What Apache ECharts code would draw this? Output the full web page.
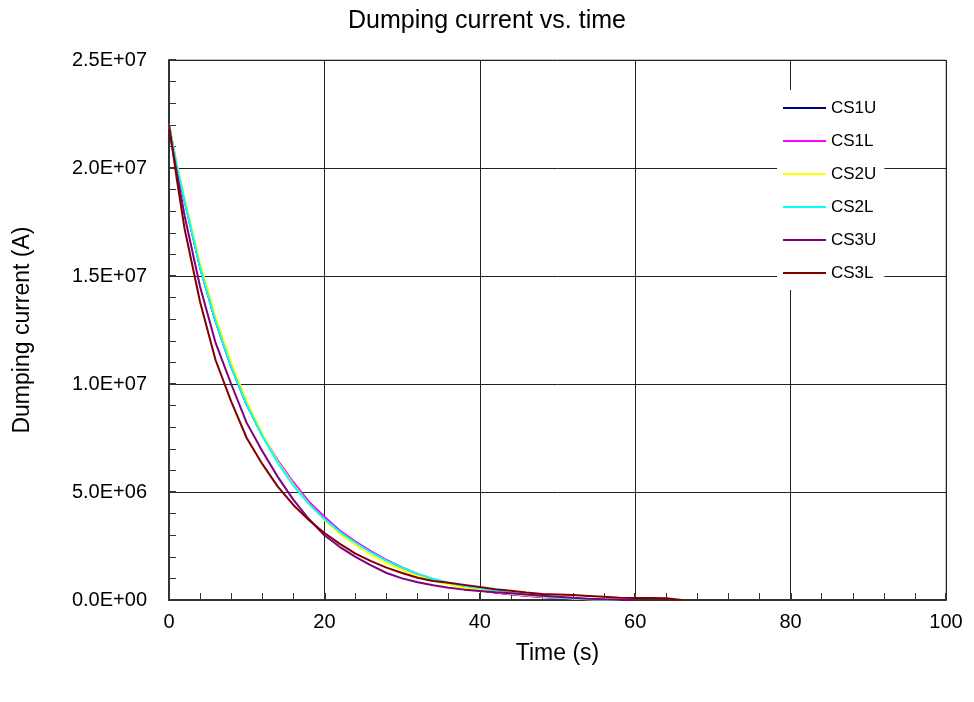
<!DOCTYPE html>
<html>
<head>
<meta charset="utf-8">
<title>Dumping current vs. time</title>
<script src="https://cdn.jsdelivr.net/npm/echarts@6/dist/echarts.min.js"></script>
<style>
  html, body { margin: 0; padding: 0; background: #fff; }
  #chart { width: 974px; height: 702px; }
</style>
</head>
<body>
<div id="chart"></div>
<script>
// Sample times (s)
const times = [0, 1, 2, 4, 6, 8, 10, 12, 14, 16, 18, 20, 22, 24, 26, 28, 30, 32, 34,
  36, 38, 40, 42, 44, 46, 48, 50, 52, 54, 56, 58, 60, 62, 64, 66];

// Dumping current per coil, in MA (1 MA = 1E+06 A)
const MA = 1e6;
const cs1u = [22.0, 20.1, 18.5, 15.4, 12.9, 10.8, 9.05, 7.63, 6.43, 5.43, 4.53, 3.83, 3.19, 2.68, 2.24, 1.84, 1.5, 1.2, 0.95,
  0.75, 0.58, 0.45, 0.35, 0.27, 0.2, 0.14, 0.1, 0.06, 0.03, 0.01, 0];
const cs1l = [22.0, 20.1, 18.5, 15.4, 12.9, 10.8, 9.05, 7.65, 6.45, 5.45, 4.55, 3.85, 3.2, 2.7, 2.25, 1.85, 1.5, 1.2, 0.95,
  0.75, 0.58, 0.45, 0.35, 0.27, 0.2, 0.14, 0.1, 0.06, 0.03, 0.01, 0];
const cs2u = [22.0, 20.2, 18.6, 15.6, 13.1, 11.0, 9.2, 7.7, 6.4, 5.35, 4.45, 3.7, 3.05, 2.55, 2.1, 1.7, 1.4, 1.12, 0.9,
  0.72, 0.57, 0.47, 0.37, 0.29, 0.22, 0.16, 0.11, 0.07, 0.04, 0.02, 0];
const cs2l = [22.0, 20.1, 18.5, 15.4, 12.9, 10.8, 9.05, 7.6, 6.35, 5.3, 4.45, 3.75, 3.15, 2.65, 2.2, 1.82, 1.5, 1.22, 0.98,
  0.8, 0.66, 0.55, 0.44, 0.34, 0.25, 0.18, 0.12, 0.08, 0.04, 0.02, 0];
const cs3u = [21.8, 19.8, 17.8, 14.5, 11.9, 10.0, 8.2, 6.9, 5.7, 4.65, 3.75, 3.0, 2.45, 2.0, 1.6, 1.25, 1.0, 0.82, 0.68,
  0.57, 0.48, 0.42, 0.36, 0.31, 0.25, 0.2, 0.15, 0.1, 0.06, 0.03, 0.01, 0];
const cs3l = [22.0, 19.5, 17.2, 13.8, 11.1, 9.2, 7.5, 6.3, 5.25, 4.4, 3.7, 3.1, 2.6, 2.15, 1.8, 1.5, 1.25, 1.03, 0.88,
  0.8, 0.7, 0.6, 0.5, 0.43, 0.35, 0.28, 0.26, 0.23, 0.19, 0.15, 0.1, 0.09, 0.09, 0.08, 0];

const seriesNames = ['CS1U', 'CS1L', 'CS2U', 'CS2L', 'CS3U', 'CS3L'];
const seriesValues = [cs1u, cs1l, cs2u, cs2l, cs3u, cs3l];
const seriesColors = ['#000080', '#FF00FF', '#FFFF00', '#00FFFF', '#800080', '#800000'];

// Axis ranges and ticks
const xMin = 0, xMax = 100, xStep = 20;
const yMin = 0, yMax = 2.5e7, yStep = 5e6;

const FONT = '"Liberation Sans", Arial, sans-serif';

// 2.5E+07 style labels
function sci(v) {
  const parts = Number(v).toExponential(1).split('e');
  const exp = parseInt(parts[1], 10);
  const sign = exp < 0 ? '-' : '+';
  const mag = String(Math.abs(exp)).padStart(2, '0');
  return parts[0] + 'E' + sign + mag;
}

const chart = echarts.init(document.getElementById('chart'), null, { renderer: 'canvas' });

const series = seriesNames.map((name, i) => ({
  name: name,
  type: 'line',
  data: seriesValues[i].map((v, k) => [times[k], v * MA]),
  showSymbol: false,
  symbol: 'none',
  smooth: false,
  lineStyle: { color: seriesColors[i], width: 2 },
  itemStyle: { color: seriesColors[i] },
  z: 3 + i,
  animation: false
}));

chart.setOption({
  animation: false,
  backgroundColor: '#ffffff',
  textStyle: { fontFamily: FONT },
  title: {
    text: 'Dumping current vs. time',
    left: 'center',
    top: 4,
    textStyle: { fontFamily: FONT, fontSize: 25, fontWeight: 'normal', color: '#000' }
  },
  legend: {
    orient: 'vertical',
    left: 777,
    top: 90,
    backgroundColor: '#ffffff',
    padding: [8, 8, 7, 6],
    itemGap: 13,
    itemWidth: 43,
    itemHeight: 2,
    icon: 'rect',
    data: seriesNames,
    textStyle: { fontFamily: FONT, fontSize: 17, color: '#000', lineHeight: 20, padding: [0, 0, 0, 0] },
    z: 10
  },
  grid: {
    left: 169,
    right: 28,
    top: 60,
    bottom: 102,
    show: true,
    borderColor: '#888888',
    borderWidth: 1,
    backgroundColor: 'transparent'
  },
  xAxis: {
    type: 'value',
    min: xMin,
    max: xMax,
    interval: xStep,
    name: 'Time (s)',
    nameLocation: 'middle',
    nameGap: 42,
    nameTextStyle: { fontFamily: FONT, fontSize: 23, color: '#000' },
    axisLine: { show: true, onZero: false, lineStyle: { color: '#333', width: 2 } },
    axisTick: { show: true, inside: true, length: 7, lineStyle: { color: '#333', width: 2 } },
    minorTick: { show: true, splitNumber: 5, length: 7, lineStyle: { color: '#333', width: 1 } },
    axisLabel: { fontFamily: FONT, fontSize: 20, color: '#000', margin: 12 },
    splitLine: { show: true, lineStyle: { color: '#222', width: 1 } }
  },
  yAxis: {
    type: 'value',
    min: yMin,
    max: yMax,
    interval: yStep,
    name: 'Dumping current (A)',
    nameLocation: 'middle',
    nameGap: 135,
    nameRotate: 90,
    nameTextStyle: { fontFamily: FONT, fontSize: 23, color: '#000' },
    axisLine: { show: true, onZero: false, lineStyle: { color: '#333', width: 2 } },
    axisTick: { show: true, inside: true, length: 7, lineStyle: { color: '#333', width: 2 } },
    minorTick: { show: true, splitNumber: 5, length: 7, lineStyle: { color: '#333', width: 1 } },
    axisLabel: { fontFamily: FONT, fontSize: 20, color: '#000', margin: 22, formatter: sci },
    splitLine: { show: true, lineStyle: { color: '#222', width: 1 } }
  },
  series: series
});
</script>
</body>
</html>
